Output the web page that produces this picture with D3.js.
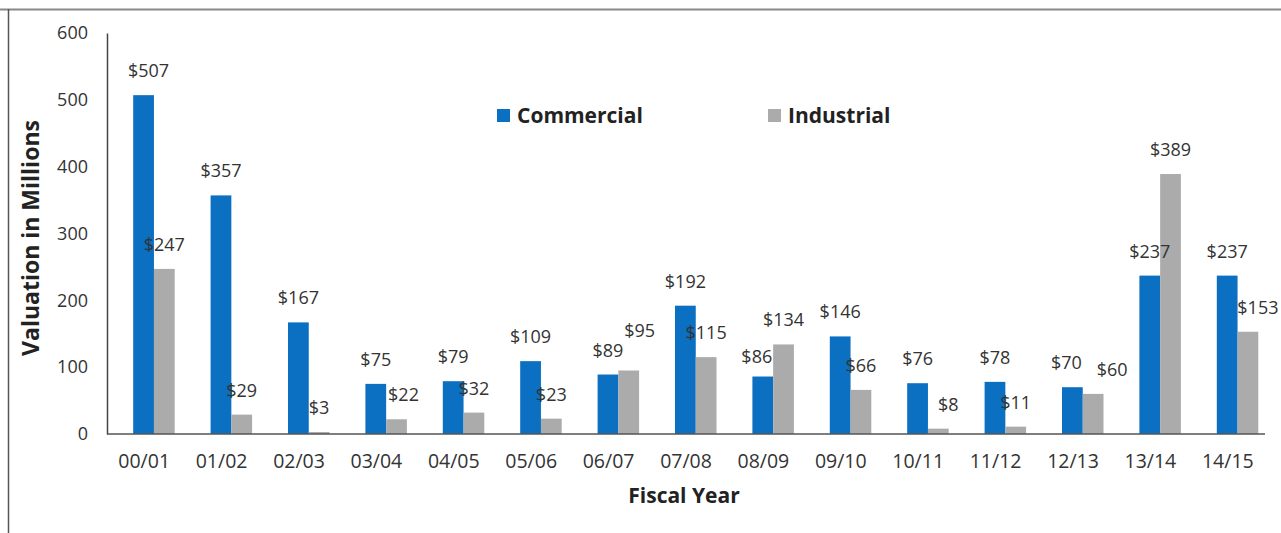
<!DOCTYPE html>
<html>
<head>
<meta charset="utf-8">
<script src="https://cdn.jsdelivr.net/npm/d3@7"></script>
<style>
  body { margin: 0; background: #fff; }
  .chart { width: 1281px; height: 533px; }
  text { font-family: "Open Sans", sans-serif; }
</style>
</head>
<body>
<div class="chart"></div>
<script>
// 資料
const years = ['00/01','01/02','02/03','03/04','04/05','05/06','06/07','07/08','08/09','09/10','10/11','11/12','12/13','13/14','14/15']
const commercial = [507, 357, 167, 75, 79, 109, 89, 192, 86, 146, 76, 78, 70, 237, 237]
const industrial = [247, 29, 3, 22, 32, 23, 95, 115, 134, 66, 8, 11, 60, 389, 153]
const series = ['Commercial', 'Industrial']
const yTicks = [0, 100, 200, 300, 400, 500, 600]

// 標籤微調 (手動移動過的 data label)
const labelNudge = {
  '06/07|Industrial': [11, -16],
  '10/11|Industrial': [10, 0],
  '12/13|Industrial': [19, 0],
  '14/15|Industrial': [10, 0],
  '03/04|Industrial': [7, 0],
  '00/01|Commercial': [5, 0],
  '08/09|Commercial': [-6, 4],
  '12/13|Commercial': [-6, 0]
}

function drawBarChart() {
  d3.select('.chart svg').remove()

  const width = 1281, height = 533

  const svg = d3.select('.chart')
                .append('svg')
                .attr('width', width)
                .attr('height', height)

  // 外框 (上、左)
  svg.append('line').attr('x1', 0).attr('x2', width).attr('y1', 9.5).attr('y2', 9.5)
     .attr('stroke', '#888').attr('stroke-width', 2)
  svg.append('line').attr('x1', 8.5).attr('x2', 8.5).attr('y1', 9).attr('y2', height)
     .attr('stroke', '#555').attr('stroke-width', 1.5)

  const xScale = d3.scaleBand()
                   .domain(years)
                   .range([105.5, 1266.5])

  const yScale = d3.scaleLinear()
                   .domain([0, 600])
                   .range([434, 33])

  const xSub = d3.scaleBand()
                 .domain(series)
                 .range([0, 41.5])

  const color = d3.scaleOrdinal()
                  .domain(series)
                  .range(['#0b6fc2', '#ababab'])

  // Y 軸
  const yAxis = d3.axisLeft(yScale).tickValues(yTicks).tickSize(0).tickPadding(19)
  const yAxisGroup = svg.append('g')
                        .attr('transform', 'translate(107,0)')
                        .call(yAxis)
  yAxisGroup.select('.domain').attr('stroke', '#444').attr('stroke-width', 1.5)
  yAxisGroup.selectAll('text')
            .style('font-size', '18px')
            .style('fill', '#333')
            .style('font-family', '"Open Sans", sans-serif')

  // 長條圖
  const rows = years.map((y, i) => ({ year: y, Commercial: commercial[i], Industrial: industrial[i] }))

  const groups = svg.append('g')
                    .selectAll('g')
                    .data(rows)
                    .join('g')
                    .attr('transform', d => `translate(${xScale(d.year) + xScale.bandwidth() / 2 - 11}, 0)`)

  const cells = d => series.map(key => ({ year: d.year, key: key, value: d[key] }))

  groups.selectAll('rect')
        .data(cells)
        .join('rect')
        .attr('x', d => xSub(d.key))
        .attr('y', d => yScale(d.value))
        .attr('width', xSub.bandwidth())
        .attr('height', d => yScale(0) - yScale(d.value))
        .attr('fill', d => color(d.key))

  groups.selectAll('text')
        .data(cells)
        .join('text')
        .attr('x', d => xSub(d.key) + xSub.bandwidth() / 2 + (labelNudge[d.year + '|' + d.key] || [0, 0])[0])
        .attr('y', d => yScale(d.value) - 18 + (labelNudge[d.year + '|' + d.key] || [0, 0])[1])
        .style('font-size', '18px')
        .style('fill', '#333')
        .style('text-anchor', 'middle')
        .text(d => '$' + d.value)

  // X 軸
  const xAxis = d3.axisBottom(xScale).tickSize(0).tickPadding(20)
  const xAxisGroup = svg.append('g')
                        .attr('transform', 'translate(0,434)')
                        .call(xAxis)
  xAxisGroup.select('.domain').attr('stroke', '#555').attr('stroke-width', 1.5)
            .attr('d', 'M107,0H1265')
  xAxisGroup.selectAll('text')
            .style('font-size', '19.5px')
            .style('fill', '#333')
            .style('font-family', '"Open Sans", sans-serif')

  // 軸標題
  svg.append('text')
     .attr('transform', 'translate(39,238) rotate(-90)')
     .style('font-size', '23px')
     .style('font-weight', 'bold')
     .style('fill', '#222')
     .style('text-anchor', 'middle')
     .text('Valuation in Millions')

  svg.append('text')
     .attr('x', 684)
     .attr('y', 503)
     .style('font-size', '21px')
     .style('font-weight', 'bold')
     .style('fill', '#222')
     .style('text-anchor', 'middle')
     .text('Fiscal Year')

  // 圖例
  const legendX = [497, 768]
  const legend = svg.append('g')
                    .selectAll('g')
                    .data(series)
                    .join('g')
                    .attr('transform', (d, i) => `translate(${legendX[i]},0)`)

  legend.append('rect')
        .attr('x', 0)
        .attr('y', 109)
        .attr('width', 13)
        .attr('height', 13)
        .attr('fill', d => color(d))

  legend.append('text')
        .attr('x', 20)
        .attr('y', 123)
        .style('font-size', '21px')
        .style('font-weight', 'bold')
        .style('fill', '#222')
        .text(d => d)
}

drawBarChart()
</script>
</body>
</html>
